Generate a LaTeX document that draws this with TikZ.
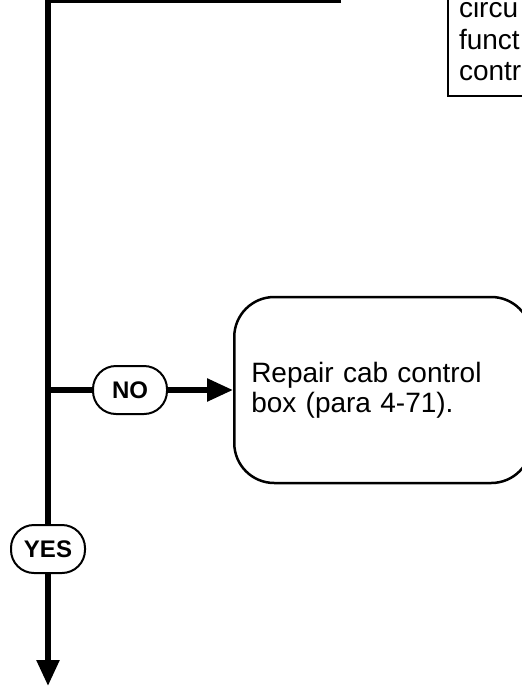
\documentclass[tikz,border=0pt]{standalone}
\usepackage{fontspec}
\setmainfont{Liberation Sans}
\usetikzlibrary{arrows.meta}
\begin{document}
\begin{tikzpicture}[x=1pt,y=-1pt,
  flow/.style={line width=5.5pt},
  arr/.style={flow,-{Triangle[length=26pt,width=22pt]}},
  pill/.style={draw,line width=2pt,rounded corners=23pt,minimum width=74pt,minimum height=48pt,inner sep=0pt,font=\fontsize{24}{24}\selectfont\bfseries},
  stepbox/.style={draw,line width=2.5pt,align=left,font=\fontsize{28}{30}\selectfont}]
\useasboundingbox (0,0) rectangle (522,686);
\coordinate (top) at (48,0);
\coordinate (topend) at (341,0);
\coordinate (bot) at (48,686);
\node[pill] (no) at (130,390) {NO};
\node[pill] (yes) at (48,549) {YES};
\node[stepbox, rounded corners=40pt, minimum width=297pt, minimum height=186pt, text width=263pt, inner xsep=17pt, anchor=west] (repair) at (233,390) {Repair cab control\\box (para 4-71).};
\node[stepbox, line width=2pt, anchor=south west, text width=100pt, inner xsep=11pt, inner ysep=15pt, font=\fontsize{28}{31.5}\selectfont] (prev) at (447,97) {circu\\funct\\contr};
\draw[flow] (topend) -- (top) -- (yes.north);
\draw[arr] (yes.south) -- (bot);
\draw[flow] (top |- no) -- (no.west);
\draw[arr] (no.east) -- (no.east -| repair.west);
\end{tikzpicture}
\end{document}
